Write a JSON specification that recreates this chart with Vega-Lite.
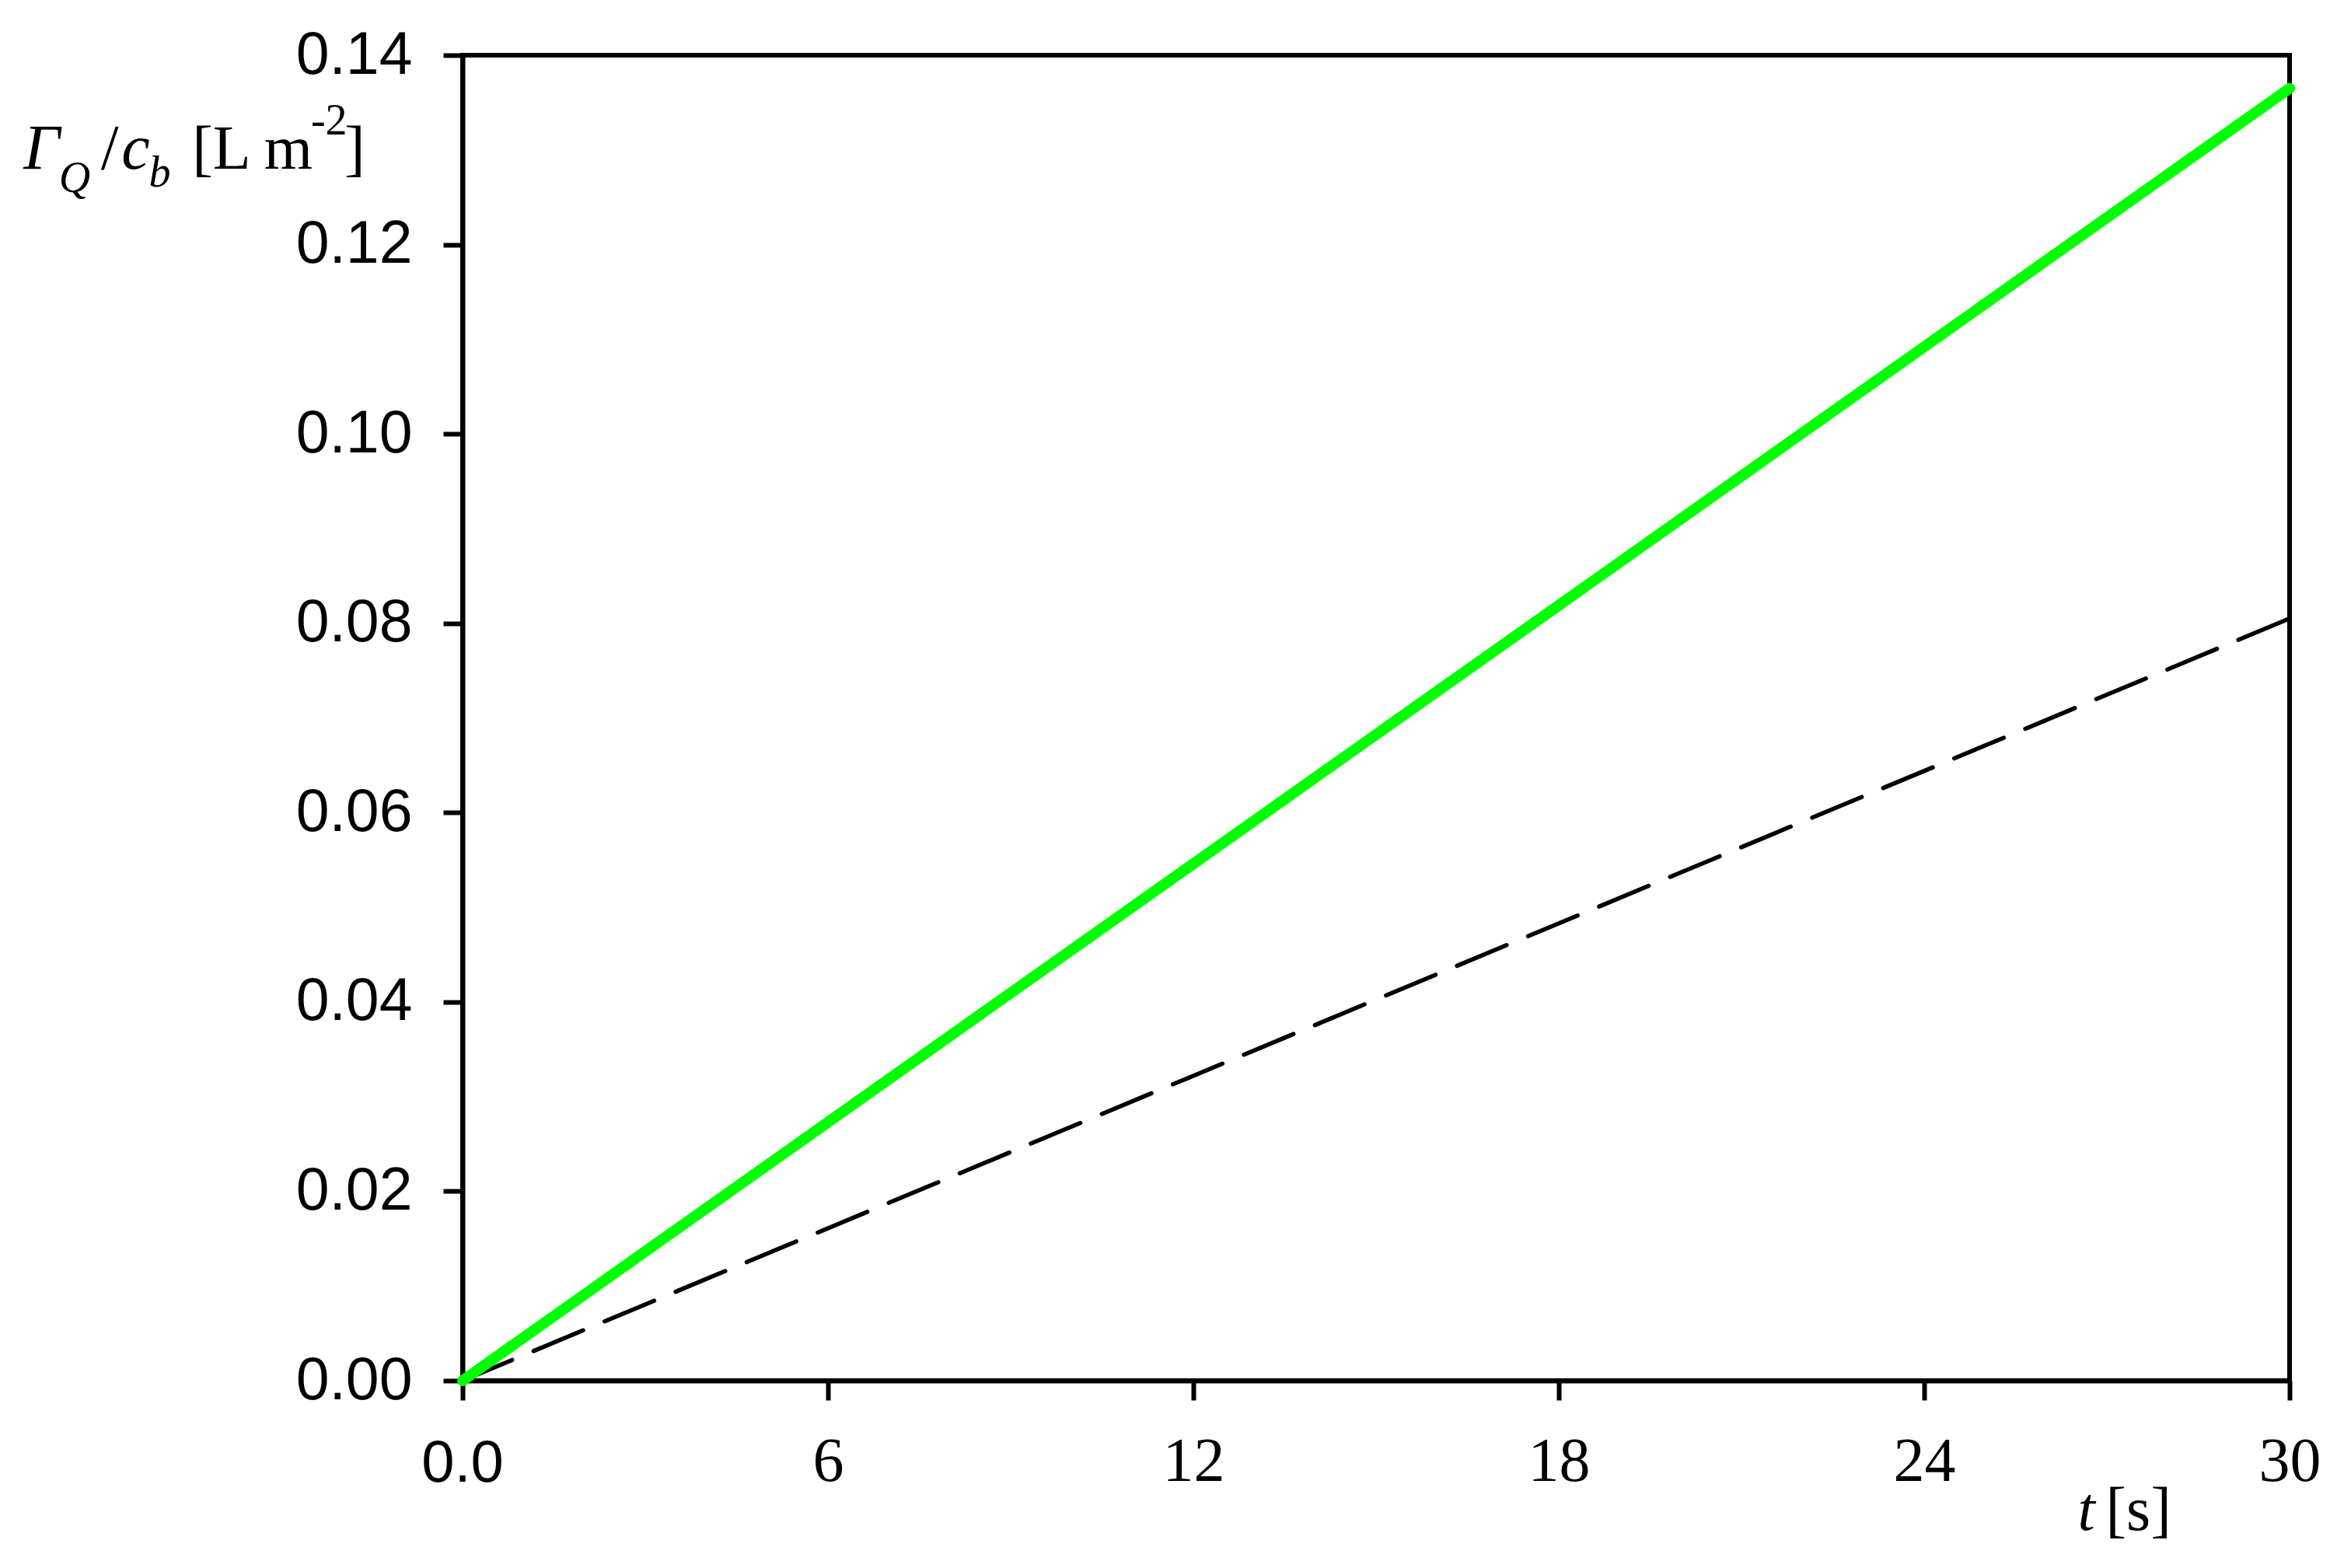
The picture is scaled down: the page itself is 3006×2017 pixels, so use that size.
{
  "$schema": "https://vega.github.io/schema/vega-lite/v6.json",
  "width": 2350,
  "height": 1705,
  "autosize": {"type": "none"},
  "padding": {"left": 595, "top": 71, "right": 61, "bottom": 241},
  "background": "white",
  "config": {"view": {"stroke": "black", "strokeWidth": 6}},
  "datasets": {
    "curves": [
      {"t": 0, "value": 0, "series": "green"},
      {"t": 30, "value": 0.1365, "series": "green"},
      {"t": 0, "value": 0, "series": "dashed"},
      {"t": 30, "value": 0.0805, "series": "dashed"}
    ]
  },
  "layer": [
    {
      "data": {"name": "curves"},
      "transform": [{"filter": "datum.series === 'dashed'"}],
      "mark": {"type": "line", "color": "black", "strokeWidth": 5.5, "strokeDash": [69, 30], "strokeCap": "round"},
      "encoding": {
        "x": {"field": "t", "type": "quantitative", "scale": {"domain": [0, 30], "nice": false},
          "axis": {"title": null, "values": [0, 6, 12, 18, 24, 30], "grid": false,
            "labelExpr": "datum.value == 0 ? '' : format(datum.value, 'd')",
            "labelFont": "Liberation Serif",
            "labelFontSize": 80,
            "labelColor": "black", "labelPadding": 40,
            "tickSize": 25, "tickWidth": 6, "tickColor": "black",
            "domainColor": "black", "domainWidth": 6, "labelFlush": false}},
        "y": {"field": "value", "type": "quantitative", "scale": {"domain": [0, 0.14], "nice": false},
          "axis": {"title": null, "values": [0, 0.02, 0.04, 0.06, 0.08, 0.1, 0.12, 0.14], "format": ".2f", "grid": false,
            "labelFont": "Liberation Sans", "labelFontSize": 77, "labelColor": "black", "labelPadding": 40,
            "tickSize": 25, "tickWidth": 6, "tickColor": "black",
            "domainColor": "black", "domainWidth": 6, "labelFlush": false}}
      }
    },
    {
      "data": {"name": "curves"},
      "transform": [{"filter": "datum.series === 'green'"}],
      "mark": {"type": "line", "color": "#00ff00", "strokeWidth": 14, "strokeCap": "round"},
      "encoding": {
        "x": {"field": "t", "type": "quantitative", "scale": {"domain": [0, 30], "nice": false}},
        "y": {"field": "value", "type": "quantitative", "scale": {"domain": [0, 0.14], "nice": false}}
      }
    },
    {
      "data": {"values": [{"label": "0.0"}]},
      "mark": {"type": "text", "font": "Liberation Sans", "fontSize": 76, "align": "center", "baseline": "alphabetic", "color": "black"},
      "encoding": {"text": {"field": "label"}, "x": {"datum": 0, "type": "quantitative"}, "y": {"datum": -0.0107, "type": "quantitative"}}
    },
    {
      "data": {"values": [{"label": "Γ"}]},
      "mark": {"type": "text", "font": "Liberation Serif", "fontStyle": "italic", "fontSize": 82, "align": "left", "baseline": "alphabetic", "color": "black"},
      "encoding": {"text": {"field": "label"}, "x": {"datum": -7.21, "type": "quantitative"}, "y": {"datum": 0.12801, "type": "quantitative"}}
    },
    {
      "data": {"values": [{"label": "Q"}]},
      "mark": {"type": "text", "font": "Liberation Serif", "fontStyle": "italic", "fontSize": 56, "align": "left", "baseline": "alphabetic", "color": "black"},
      "encoding": {"text": {"field": "label"}, "x": {"datum": -6.63, "type": "quantitative"}, "y": {"datum": 0.12555, "type": "quantitative"}}
    },
    {
      "data": {"values": [{"label": "/"}]},
      "mark": {"type": "text", "font": "Liberation Serif", "fontSize": 82, "align": "left", "baseline": "alphabetic", "color": "black"},
      "encoding": {"text": {"field": "label"}, "x": {"datum": -5.94, "type": "quantitative"}, "y": {"datum": 0.12801, "type": "quantitative"}}
    },
    {
      "data": {"values": [{"label": "c"}]},
      "mark": {"type": "text", "font": "Liberation Serif", "fontStyle": "italic", "fontSize": 82, "align": "left", "baseline": "alphabetic", "color": "black"},
      "encoding": {"text": {"field": "label"}, "x": {"datum": -5.6, "type": "quantitative"}, "y": {"datum": 0.12801, "type": "quantitative"}}
    },
    {
      "data": {"values": [{"label": "b"}]},
      "mark": {"type": "text", "font": "Liberation Serif", "fontStyle": "italic", "fontSize": 56, "align": "left", "baseline": "alphabetic", "color": "black"},
      "encoding": {"text": {"field": "label"}, "x": {"datum": -5.15, "type": "quantitative"}, "y": {"datum": 0.12612, "type": "quantitative"}}
    },
    {
      "data": {"values": [{"label": "[L m"}]},
      "mark": {"type": "text", "font": "Liberation Serif", "fontSize": 80, "align": "left", "baseline": "alphabetic", "color": "black"},
      "encoding": {"text": {"field": "label"}, "x": {"datum": -4.44, "type": "quantitative"}, "y": {"datum": 0.12801, "type": "quantitative"}}
    },
    {
      "data": {"values": [{"label": "-2"}]},
      "mark": {"type": "text", "font": "Liberation Serif", "fontSize": 56, "align": "left", "baseline": "alphabetic", "color": "black"},
      "encoding": {"text": {"field": "label"}, "x": {"datum": -2.49, "type": "quantitative"}, "y": {"datum": 0.13163, "type": "quantitative"}}
    },
    {
      "data": {"values": [{"label": "]"}]},
      "mark": {"type": "text", "font": "Liberation Serif", "fontSize": 80, "align": "left", "baseline": "alphabetic", "color": "black"},
      "encoding": {"text": {"field": "label"}, "x": {"datum": -1.94, "type": "quantitative"}, "y": {"datum": 0.12801, "type": "quantitative"}}
    },
    {
      "data": {"values": [{"label": "t"}]},
      "mark": {"type": "text", "font": "Liberation Serif", "fontStyle": "italic", "fontSize": 80, "align": "left", "baseline": "alphabetic", "color": "black"},
      "encoding": {"text": {"field": "label"}, "x": {"datum": 26.52, "type": "quantitative"}, "y": {"datum": -0.01577, "type": "quantitative"}}
    },
    {
      "data": {"values": [{"label": "[s]"}]},
      "mark": {"type": "text", "font": "Liberation Serif", "fontSize": 80, "align": "left", "baseline": "alphabetic", "color": "black"},
      "encoding": {"text": {"field": "label"}, "x": {"datum": 26.98, "type": "quantitative"}, "y": {"datum": -0.01577, "type": "quantitative"}}
    }
  ]
}
